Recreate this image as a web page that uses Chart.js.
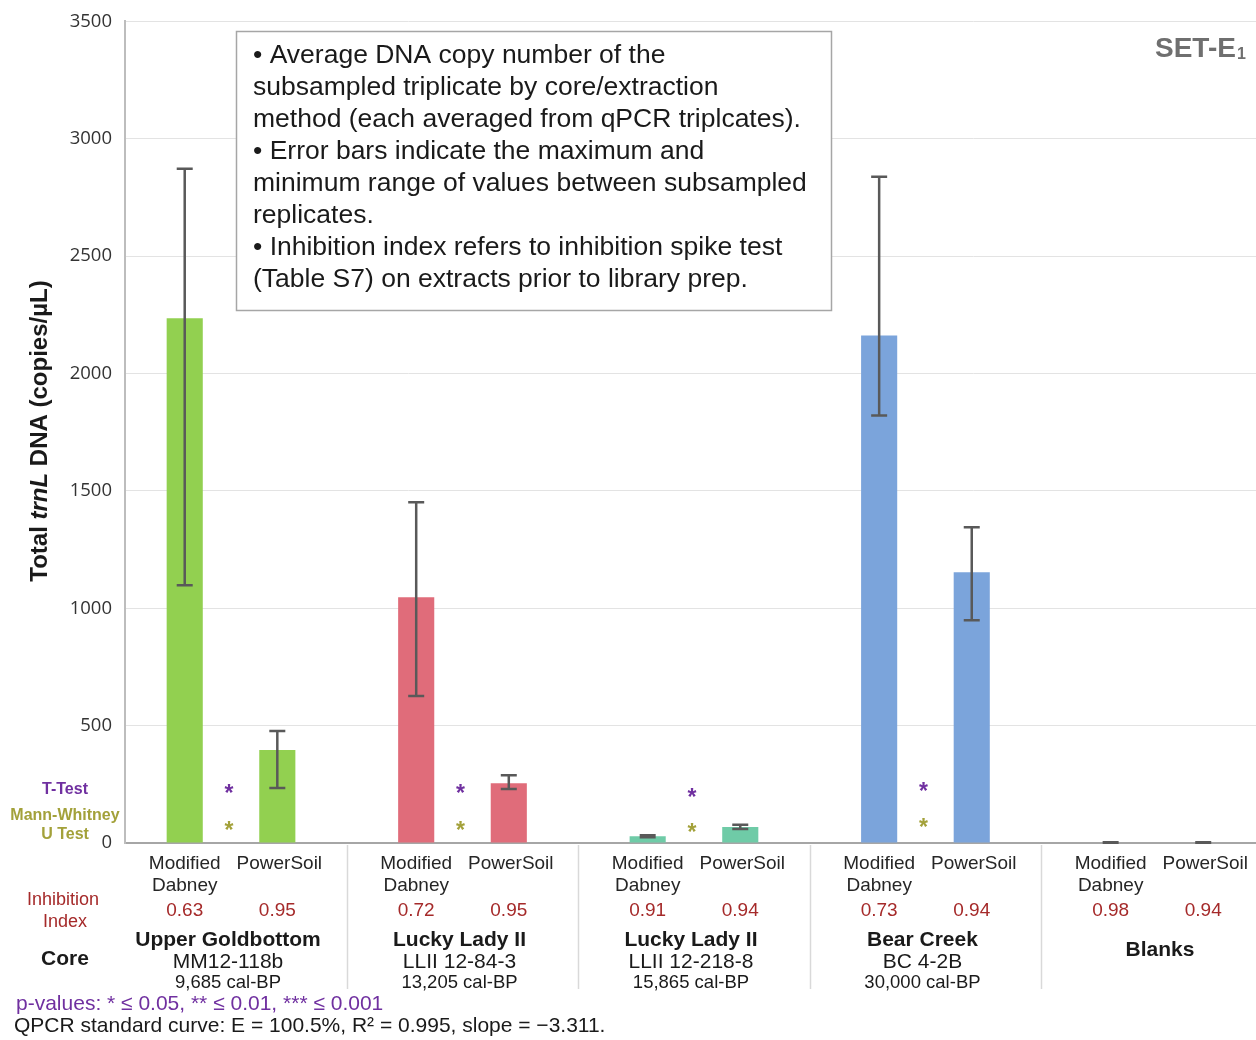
<!DOCTYPE html>
<html>
<head>
<meta charset="utf-8">
<script src="https://cdn.jsdelivr.net/npm/chart.js@4/dist/chart.umd.min.js"></script>
<style>
  html, body { margin: 0; padding: 0; background: #ffffff; overflow: hidden; }
  #wrap { width: 1256px; height: 1040px; }
</style>
</head>
<body>
<div id="wrap"><canvas id="c" width="1256" height="1040"></canvas></div>
<script>
// Cores / sites (one group of two extraction methods each)
const sites     = ['Upper Goldbottom', 'Lucky Lady II', 'Lucky Lady II', 'Bear Creek', 'Blanks'];
const coreIds   = ['MM12-118b', 'LLII 12-84-3', 'LLII 12-218-8', 'BC 4-2B', ''];
const coreAges  = ['9,685 cal-BP', '13,205 cal-BP', '15,865 cal-BP', '30,000 cal-BP', ''];
const methods   = ['Modified\nDabney', 'PowerSoil'];

// Mean trnL copies/µL and min/max of subsampled replicates
const dabney     = [2235, 1047, 29, 2162, 2];
const dabneyMin  = [1098, 626, 25, 1821, 1];
const dabneyMax  = [2872, 1451, 33, 2838, 3];
const powersoil    = [396, 255, 68, 1153, 2];
const powersoilMin = [234, 230, 60, 949, 1];
const powersoilMax = [477, 289, 78, 1345, 3];

// Inhibition index per extract
const inhibDabney    = ['0.63', '0.72', '0.91', '0.73', '0.98'];
const inhibPowersoil = ['0.95', '0.95', '0.94', '0.94', '0.94'];

// Significance markers (value level at which each asterisk sits)
const tTestLevel = [220, 220, 204, 230, null];
const mwLevel    = [64, 64, 55, 77, null];

// Y axis
const yMin = 0, yMax = 3500, yStep = 500;

const siteColors = ['#92D050', '#E06C7A', '#6FCBA7', '#7BA4DB', '#BFBFBF'];

const notes = [
  '\u2022 Average DNA copy number of the',
  'subsampled triplicate by core/extraction',
  'method (each averaged from qPCR triplcates).',
  '\u2022 Error bars indicate the maximum and',
  'minimum range of values between subsampled',
  'replicates.',
  '\u2022 Inhibition index refers to inhibition spike test',
  '(Table S7) on extracts prior to library prep.'
];

const SANS = '"Liberation Sans", Arial, sans-serif';
const RED = '#A52A2A';
const PURPLE = '#7030A0';
const OLIVE = '#A3A13A';
const INK = '#1a1a1a';

const idx = sites.map((_, i) => i);

function drawText(ctx, txt, x, y, font, color, align) {
  ctx.font = font;
  ctx.fillStyle = color;
  ctx.textAlign = align || 'center';
  ctx.textBaseline = 'middle';
  ctx.fillText(txt, x, y);
}

const decor = {
  id: 'decor',
  afterDatasetsDraw(chart) {
    const ctx = chart.ctx;
    const ys = chart.scales.y;
    ctx.save();
    ctx.strokeStyle = '#595959';
    ctx.lineWidth = 2.5;
    chart.data.datasets.forEach((ds, di) => {
      const meta = chart.getDatasetMeta(di);
      meta.data.forEach((el, i) => {
        const top = ys.getPixelForValue(ds.errHigh[i]);
        const bot = ys.getPixelForValue(ds.errLow[i]);
        const cx = el.x;
        ctx.beginPath();
        ctx.moveTo(cx, top); ctx.lineTo(cx, bot);
        ctx.moveTo(cx - 8, top); ctx.lineTo(cx + 8, top);
        ctx.moveTo(cx - 8, bot); ctx.lineTo(cx + 8, bot);
        ctx.stroke();
      });
    });
    ctx.restore();
  },
  afterDraw(chart) {
    const ctx = chart.ctx;
    const xs = chart.scales.x, ys = chart.scales.y;
    const area = chart.chartArea;
    ctx.save();

    // group separators below the axis
    ctx.strokeStyle = '#D9D9D9';
    ctx.lineWidth = 1.5;
    for (let i = 0; i < sites.length - 1; i++) {
      const px = Math.round(xs.getPixelForValue(i + 0.5)) + 0.5;
      ctx.beginPath();
      ctx.moveTo(px, area.bottom + 2);
      ctx.lineTo(px, area.bottom + 146);
      ctx.stroke();
    }

    const m0 = chart.getDatasetMeta(0).data;
    const m1 = chart.getDatasetMeta(1).data;

    idx.forEach(i => {
      const xa = m0[i].x, xb = m1[i].x, xc = xs.getPixelForValue(i);
      const f19 = '19px ' + SANS;
      const lines = methods[0].split('\n');
      drawText(ctx, lines[0], xa, area.bottom + 21, f19, '#262626');
      drawText(ctx, lines[1], xa, area.bottom + 43, f19, '#262626');
      drawText(ctx, methods[1], xb + 2, area.bottom + 21, f19, '#262626');
      drawText(ctx, inhibDabney[i], xa, area.bottom + 68, f19, RED);
      drawText(ctx, inhibPowersoil[i], xb, area.bottom + 68, f19, RED);
      if (coreIds[i]) {
        drawText(ctx, sites[i], xc - 3, area.bottom + 97, 'bold 21px ' + SANS, INK);
        drawText(ctx, coreIds[i], xc - 3, area.bottom + 119, '21px ' + SANS, INK);
        drawText(ctx, coreAges[i], xc - 3, area.bottom + 140, '18.5px ' + SANS, INK);
      } else {
        drawText(ctx, sites[i], xc + 3, area.bottom + 107, 'bold 21px ' + SANS, INK);
      }
      // significance asterisks
      ctx.font = 'bold 23px ' + SANS;
      ctx.textAlign = 'center';
      ctx.textBaseline = 'alphabetic';
      if (tTestLevel[i] != null) {
        ctx.fillStyle = PURPLE;
        ctx.fillText('*', xc - 2, ys.getPixelForValue(tTestLevel[i]) + 10);
      }
      if (mwLevel[i] != null) {
        ctx.fillStyle = OLIVE;
        ctx.fillText('*', xc - 2, ys.getPixelForValue(mwLevel[i]) + 10);
      }
    });

    // row captions on the left
    drawText(ctx, 'T-Test', 65, 790, 'bold 16px ' + SANS, PURPLE);
    drawText(ctx, 'Mann-Whitney', 65, 816, 'bold 16px ' + SANS, OLIVE);
    drawText(ctx, 'U Test', 65, 835, 'bold 16px ' + SANS, OLIVE);
    drawText(ctx, 'Inhibition', 63, 900, '18px ' + SANS, RED);
    drawText(ctx, 'Index', 65, 922, '18px ' + SANS, RED);
    drawText(ctx, 'Core', 65, 959, 'bold 21px ' + SANS, INK);

    // y axis title with italic gene name
    ctx.save();
    ctx.translate(40, 431);
    ctx.rotate(-Math.PI / 2);
    const parts = [
      ['Total ', 'bold 24px ' + SANS],
      ['trnL', 'italic bold 24px ' + SANS],
      [' DNA (copies/\u00B5L)', 'bold 24px ' + SANS]
    ];
    let total = 0;
    parts.forEach(p => { ctx.font = p[1]; total += ctx.measureText(p[0]).width; });
    let cx = -total / 2;
    ctx.fillStyle = INK;
    ctx.textBaseline = 'middle';
    ctx.textAlign = 'left';
    parts.forEach(p => { ctx.font = p[1]; ctx.fillText(p[0], cx, 0); cx += ctx.measureText(p[0]).width; });
    ctx.restore();

    // notes box
    ctx.fillStyle = '#ffffff';
    ctx.fillRect(236, 31, 596, 280);
    ctx.strokeStyle = '#A6A6A6';
    ctx.lineWidth = 1.5;
    ctx.strokeRect(236.5, 31.5, 595, 279);
    notes.forEach((t, k) => drawText(ctx, t, 253, 56 + k * 32, '26.5px ' + SANS, INK, 'left'));

    // set label
    ctx.font = 'bold 28px ' + SANS;
    ctx.fillStyle = '#6F6F6F';
    ctx.textAlign = 'left';
    ctx.textBaseline = 'middle';
    ctx.fillText('SET-E', 1155, 49);
    const w = ctx.measureText('SET-E').width;
    ctx.font = 'bold 16px ' + SANS;
    ctx.fillText('1', 1155 + w + 1, 55);

    // footer
    drawText(ctx, 'p-values: * \u2264 0.05, ** \u2264 0.01, *** \u2264 0.001', 16, 1004, '21px ' + SANS, PURPLE, 'left');
    drawText(ctx, 'QPCR standard curve: E = 100.5%, R\u00B2 = 0.995, slope = \u22123.311.', 14, 1026, '21px ' + SANS, INK, 'left');

    ctx.restore();
  }
};

new Chart(document.getElementById('c'), {
  type: 'bar',
  data: {
    datasets: [
      {
        label: 'Modified Dabney',
        data: idx.map(i => ({ x: i, y: dabney[i] })),
        errLow: dabneyMin, errHigh: dabneyMax,
        backgroundColor: siteColors,
        categoryPercentage: 0.8, barPercentage: 0.39
      },
      {
        label: 'PowerSoil',
        data: idx.map(i => ({ x: i, y: powersoil[i] })),
        errLow: powersoilMin, errHigh: powersoilMax,
        backgroundColor: siteColors,
        categoryPercentage: 0.8, barPercentage: 0.39
      }
    ]
  },
  options: {
    responsive: false,
    animation: false,
    layout: { padding: { top: 20, right: 0, bottom: 0, left: 0 } },
    scales: {
      x: {
        type: 'linear',
        offset: false,
        min: -0.458, max: 4.428,
        afterBuildTicks(s) { s.ticks = idx.map(v => ({ value: v })); },
        ticks: { display: false },
        grid: { display: false, offset: false },
        border: { color: '#A6A6A6', width: 2 },
        afterFit(s) { s.height = 197; }
      },
      y: {
        min: yMin, max: yMax,
        ticks: {
          stepSize: yStep, padding: 13, color: '#333333',
          font: { family: '"Open Sans", sans-serif', size: 18.5, lineHeight: 0.9 },
          callback: v => String(v)
        },
        grid: { color: '#E3E3E3', drawTicks: false, lineWidth: 1 },
        border: { color: '#BDBDBD', width: 2 },
        afterFit(s) { s.width = 125; }
      }
    },
    plugins: { legend: { display: false }, tooltip: { enabled: false } }
  },
  plugins: [decor]
});
</script>
</body>
</html>
